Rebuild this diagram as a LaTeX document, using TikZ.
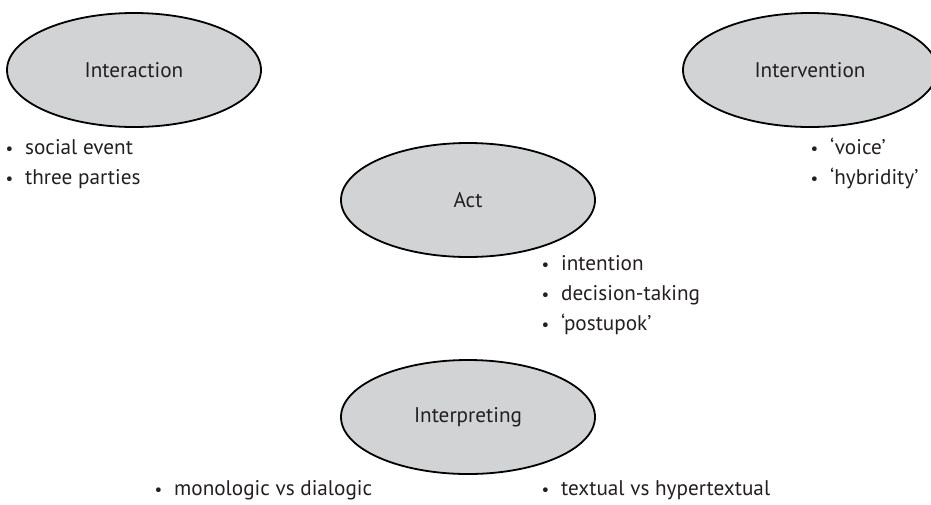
\documentclass[tikz,border=0pt]{standalone}
\usepackage{fontspec}
\setmainfont{PT Sans}
\usetikzlibrary{shapes.geometric}
\definecolor{txt}{HTML}{231F20}
\definecolor{ovalfill}{HTML}{D1D3D4}
\tikzset{
  oval/.style={ellipse, draw=black, fill=ovalfill, line width=1.8pt, inner sep=0pt,
    minimum width=254, minimum height=114, text=txt, font=\fontsize{21.2}{25}\selectfont},
  item/.style={anchor=mid west, inner sep=0pt, text=txt, font=\fontsize{21.2}{25}\selectfont}
}
\newcommand{\bul}{\makebox[0pt][r]{\scalebox{0.8}{\textbullet}\hspace{12pt}}}
\begin{document}
\begin{tikzpicture}[x=1pt,y=-1pt]
\useasboundingbox (0,0) rectangle (931,504);
\node[oval] (interaction) at (134,70) {Interaction};
\node[oval] (intervention) at (810,70) {Intervention};
\node[oval] (act) at (468,200) {Act};
\node[oval] (interpreting) at (468,417) {Interpreting};

\node[item] (i1) at (25,152) {\bul social event};
\node[item] (i2) at (25,182) {\bul three parties};

\node[item] (v1) at (830,152) {\bul ‘voice’};
\node[item] (v2) at (830,182) {\bul ‘hybridity’};

\node[item] (a1) at (561,268) {\bul intention};
\node[item] (a2) at (561,298) {\bul decision-taking};
\node[item] (a3) at (561,328) {\bul ‘postupok’};

\node[item] (p1) at (174,493) {\bul monologic vs dialogic};
\node[item] (p2) at (561,493) {\bul textual vs hypertextual};
\end{tikzpicture}
\end{document}
